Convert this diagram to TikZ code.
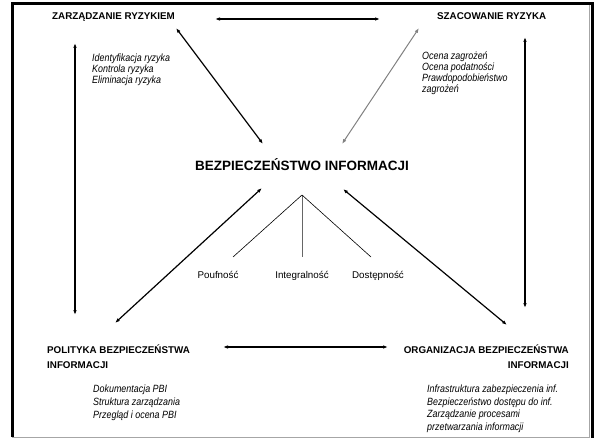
\documentclass[tikz,border=0pt]{standalone}
\usepackage{fontspec}
\setmainfont{Liberation Sans}
\newfontfamily\narrowfont[FakeStretch=0.85]{Liberation Sans}
\usetikzlibrary{arrows.meta}
\begin{document}
\begin{tikzpicture}[x=1pt,y=-1pt,
  title/.style={font=\fontsize{9.8}{15}\selectfont\bfseries, inner sep=0pt},
  centre/.style={font=\fontsize{13.5}{16}\selectfont\bfseries, inner sep=0pt},
  items/.style={font=\narrowfont\fontsize{10.5}{11}\selectfont\itshape, inner sep=0pt, align=left, anchor=base west},
  aspect/.style={font=\fontsize{9.8}{12}\selectfont, inner sep=0pt, anchor=base},
  link/.style={line width=1.2pt, {Latex[length=5pt,width=3.6pt]}-{Latex[length=5pt,width=3.6pt]}},
  faint link/.style={link, draw=black!50, line width=1pt},
  fan/.style={line width=0.6pt}]
  \useasboundingbox (0,0) rectangle (599,438);

  % frame
  \draw[black!35, line width=0.6pt] (12,4) rectangle (589.5,437);
  \draw[line width=3pt] (12.5,437) -- (12.5,4) -- (592.5,4) -- (592.5,438);

  % headings (multi-line nodes are placed by the baseline of their last line)
  \node[title, anchor=base west] (zr) at (52,20) {ZARZĄDZANIE RYZYKIEM};
  \node[title, anchor=base west] (sr) at (437,20) {SZACOWANIE RYZYKA};
  \node[title, anchor=base west, align=left] (pbi) at (47,368)
       {POLITYKA BEZPIECZEŃSTWA\\INFORMACJI};
  \node[title, anchor=base east, align=right] (obi) at (569,368)
       {ORGANIZACJA BEZPIECZEŃSTWA\\INFORMACJI};
  \node[centre, anchor=base] (bi) at (302,171) {BEZPIECZEŃSTWO INFORMACJI};

  % item lists
  \node[items] (zrl) at (92,84) {Identyfikacja ryzyka\\Kontrola ryzyka\\Eliminacja ryzyka};
  \node[items] (srl) at (422,93) {Ocena zagrożeń\\Ocena podatności\\Prawdopodobieństwo\\zagrożeń};
  \node[items, font=\narrowfont\fontsize{10.5}{12.8}\selectfont\itshape] (pbil) at (93,418)
       {Dokumentacja PBI\\Struktura zarządzania\\Przegląd i ocena PBI};
  \node[items, font=\narrowfont\fontsize{10.5}{12.4}\selectfont\itshape] (obil) at (427,430)
       {Infrastruktura zabezpieczenia inf.\\Bezpieczeństwo dostępu do inf.\\Zarządzanie procesami\\przetwarzania informacji};

  % three aspects of security
  \node[aspect] (pou) at (218,278.5) {Poufność};
  \node[aspect] (int) at (302,278.5) {Integralność};
  \node[aspect] (dos) at (378,278.5) {Dostępność};
  \coordinate (apex) at (302,195);
  \coordinate (pouT) at (233,257);
  \coordinate (intT) at (302,257);
  \coordinate (dosT) at (371,257);
  \draw[fan] (apex) -- (pouT);
  \draw[fan, black!60] (apex) -- (intT);
  \draw[fan] (apex) -- (dosT);

  % arrow end points
  \coordinate (zrE) at (215,19);
  \coordinate (srW) at (380,19);
  \coordinate (zrS) at (75,43);
  \coordinate (pbiN) at (75,315);
  \coordinate (srS) at (525,37);
  \coordinate (obiN) at (525,308);
  \coordinate (pbiE) at (223,347);
  \coordinate (obiW) at (388,347);
  \coordinate (zrSE) at (176,28);
  \coordinate (biNW) at (263,144);
  \coordinate (srSW) at (419,28);
  \coordinate (biNE) at (342,144);
  \coordinate (pbiNE) at (115,323);
  \coordinate (biSW) at (262,188);
  \coordinate (obiNW) at (507,325);
  \coordinate (biSE) at (343,189);

  % links
  \draw[link] (zrE) -- (srW);
  \draw[link] (zrS) -- (pbiN);
  \draw[link] (srS) -- (obiN);
  \draw[link] (pbiE) -- (obiW);
  \draw[link] (zrSE) -- (biNW);
  \draw[faint link] (srSW) -- (biNE);
  \draw[link] (pbiNE) -- (biSW);
  \draw[link] (obiNW) -- (biSE);
\end{tikzpicture}
\end{document}
